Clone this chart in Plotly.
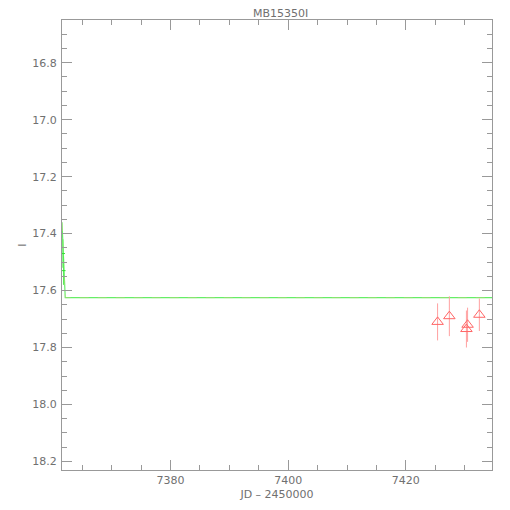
import plotly.graph_objects as go

title = "MB15350I"
x_title = "JD \u2013 2450000"
y_title = "I"

# Red data (triangles)
red_jd = [7425.4, 7427.4, 7430.3, 7430.5, 7432.5]
red_mag = [17.71, 17.69, 17.735, 17.72, 17.685]
red_err = [0.065, 0.07, 0.065, 0.06, 0.057]

# Green data points
green_jd = [7361.7, 7361.8]
green_mag = [17.47, 17.53]
green_err = [0.05, 0.05]

# Model curve
model_jd = [7361.55, 7361.65, 7361.8, 7361.95, 7362.1, 7434.65]
model_mag = [17.36, 17.42, 17.5, 17.58, 17.625, 17.625]

x_range = [7361.55, 7434.65]
y_range = [18.23, 16.65]
x_ticks = [7380, 7400, 7420]
y_ticks = [16.8, 17.0, 17.2, 17.4, 17.6, 17.8, 18.0, 18.2]

axis_col = "#999999"
text_col = "#707070"

fig = go.Figure()
fig.add_trace(go.Scatter(
    x=model_jd, y=model_mag, mode="lines",
    line=dict(color="#66ee66", width=1.2), showlegend=False, hoverinfo="skip"))
fig.add_trace(go.Scatter(
    x=model_jd, y=model_mag, mode="lines",
    line=dict(color="#ddcc88", width=1, dash="dash"), opacity=0.35,
    showlegend=False, hoverinfo="skip"))
fig.add_trace(go.Scatter(
    x=green_jd, y=green_mag, mode="markers",
    marker=dict(symbol="line-ew", size=3, color="#33dd33", line=dict(color="#33dd33", width=1)),
    error_y=dict(type="data", array=green_err, color="#55ee55", thickness=1, width=0),
    showlegend=False))
fig.add_trace(go.Scatter(
    x=red_jd, y=red_mag, mode="markers",
    marker=dict(symbol="triangle-up-open", size=10, color="#ff6666", line=dict(color="#ff6666", width=1)),
    error_y=dict(type="data", array=red_err, color="#ffa0a0", thickness=1, width=0),
    showlegend=False))

fig.update_layout(
    width=502, height=502,
    margin=dict(l=54, r=18, t=12, b=40, autoexpand=False),
    paper_bgcolor="white", plot_bgcolor="white",
    font=dict(family="DejaVu Sans", size=11, color=text_col),
    title=dict(text=title, x=0.543, xanchor="center", yref="container", y=1.0, yanchor="top",
               pad=dict(t=1, b=0), font=dict(size=11, color=text_col)),
)
fig.update_xaxes(
    range=x_range, tickvals=x_ticks, ticks="inside", ticklen=10, tickcolor=axis_col,
    showline=True, linecolor=axis_col, linewidth=1, mirror="ticks", showgrid=False,
    zeroline=False, automargin=False,
    minor=dict(dtick=5, tick0=7380, ticks="inside", ticklen=5, tickcolor=axis_col, showgrid=False),
    title=dict(text=x_title, standoff=4, font=dict(size=11, color=text_col)),
)
fig.update_yaxes(
    range=y_range, tickvals=y_ticks, tickformat=".1f", ticks="inside", ticklen=10, tickcolor=axis_col,
    showline=True, linecolor=axis_col, linewidth=1, mirror="ticks", showgrid=False,
    zeroline=False, automargin=False, ticklabelstandoff=2,
    minor=dict(dtick=0.05, tick0=16.8, ticks="inside", ticklen=5, tickcolor=axis_col, showgrid=False),
    title=dict(text=y_title, standoff=3, font=dict(size=11, color=text_col)),
)

fig.write_html("out.html")
